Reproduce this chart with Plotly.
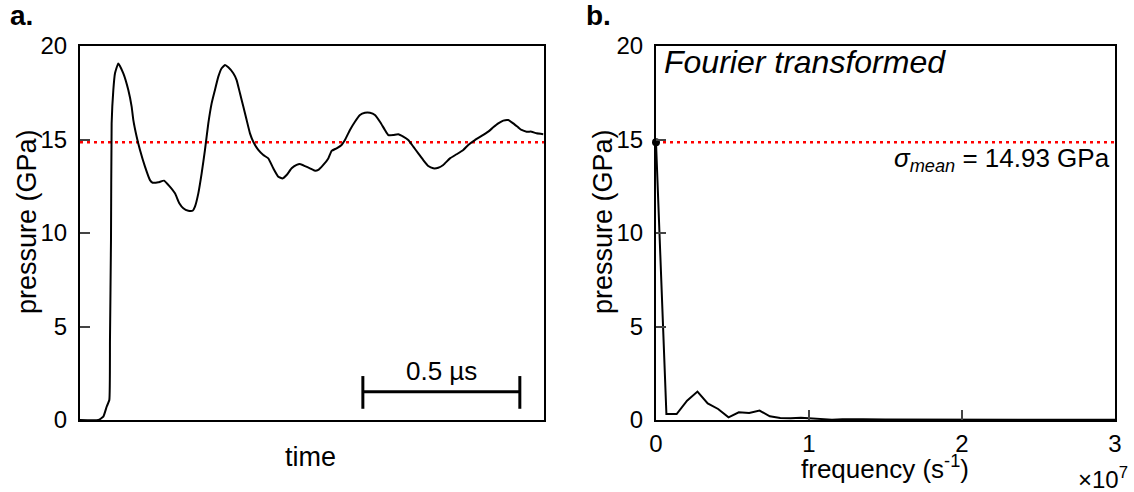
import plotly.graph_objects as go

# ---------------- data ----------------
# panel a: pressure vs time (time in microseconds)
time_us = [0.0, 0.0584, 0.0743, 0.0849, 0.0934, 0.0955, 0.0987, 0.1008, 0.1062, 0.1115,
           0.1221, 0.138, 0.1539, 0.1645, 0.1699, 0.1805, 0.1911, 0.207, 0.2229, 0.2314,
           0.2495, 0.2675, 0.2813, 0.3025, 0.3163, 0.3291, 0.345, 0.3588, 0.3662, 0.3769,
           0.3875, 0.3981, 0.4087, 0.4193, 0.4299, 0.4406, 0.4512, 0.4618, 0.4724, 0.4883,
           0.4989, 0.5096, 0.5202, 0.5308, 0.5414, 0.552, 0.5679, 0.5839, 0.5998, 0.6157,
           0.6316, 0.6454, 0.6582, 0.6741, 0.69, 0.7006, 0.7166, 0.7325, 0.7484, 0.759,
           0.7749, 0.7909, 0.8015, 0.8174, 0.8333, 0.8439, 0.8599, 0.8758, 0.8917, 0.9076,
           0.9236, 0.9395, 0.9554, 0.9713, 0.982, 0.9979, 1.0138, 1.0297, 1.0456, 1.0616,
           1.0775, 1.0934, 1.1093, 1.1253, 1.1412, 1.1571, 1.1783, 1.1996, 1.2208, 1.2367,
           1.258, 1.2792, 1.3004, 1.3163, 1.3323, 1.3482, 1.3641, 1.38, 1.3959, 1.4066,
           1.4225, 1.4384, 1.4544, 1.4756]
pressure = [0.0, 0.0, 0.18, 0.71, 1.07, 4.28, 9.63, 15.86, 17.65, 18.54,
            19.07, 18.54, 17.65, 16.76, 16.04, 15.15, 14.44, 13.55, 12.83, 12.69,
            12.71, 12.80, 12.57, 12.12, 11.59, 11.32, 11.19, 11.19, 11.41, 12.12,
            13.19, 14.44, 15.86, 16.93, 17.65, 18.36, 18.81, 18.98, 18.86, 18.54,
            18.18, 17.47, 16.76, 16.04, 15.33, 14.88, 14.44, 14.17, 13.99, 13.46,
            13.01, 12.92, 13.10, 13.46, 13.64, 13.69, 13.58, 13.46, 13.33, 13.37,
            13.64, 13.99, 14.39, 14.53, 14.71, 14.97, 15.51, 15.95, 16.31, 16.43,
            16.43, 16.31, 15.95, 15.51, 15.24, 15.24, 15.28, 15.15, 14.97, 14.62,
            14.26, 13.90, 13.58, 13.46, 13.49, 13.64, 13.99, 14.21, 14.44, 14.71,
            14.97, 15.19, 15.42, 15.65, 15.86, 16.01, 16.04, 15.86, 15.65, 15.51,
            15.42, 15.42, 15.33, 15.28]

# panel b: Fourier transformed amplitude (frequency in units of 1e7 s^-1)
freq_e7 = [0.0, 0.068, 0.135, 0.203, 0.271, 0.338, 0.406, 0.474, 0.541, 0.609,
           0.677, 0.744, 0.812, 0.880, 0.947, 1.015, 1.083, 1.150, 1.218, 1.286,
           1.353, 1.50, 1.75, 2.00, 2.25, 2.50, 2.75, 3.00]
amplitude = [14.85, 0.32, 0.32, 1.03, 1.52, 0.89, 0.59, 0.14, 0.41, 0.37,
             0.50, 0.20, 0.11, 0.09, 0.12, 0.08, 0.05, 0.02, 0.04, 0.05,
             0.04, 0.03, 0.02, 0.02, 0.02, 0.01, 0.01, 0.01]

mean_line = 14.85
mean_label = "14.93 GPa"
y_ticks = [0, 5, 10, 15, 20]
freq_ticks = [0, 1, 2, 3]
scale_bar_start, scale_bar_end = 0.901, 1.401   # 0.5 us
scale_bar_level = 1.51
time_max = 1.478

# ---------------- figure ----------------
FONT = "Liberation Sans, Arial, sans-serif"
fig = go.Figure()

fig.add_trace(go.Scatter(x=[0, time_max], y=[mean_line, mean_line], mode="lines",
                         line=dict(color="#ff0000", width=2.5, dash="3px,4px"),
                         xaxis="x", yaxis="y", showlegend=False, hoverinfo="skip"))
fig.add_trace(go.Scatter(x=time_us, y=pressure, mode="lines",
                         line=dict(color="black", width=2, shape="spline", smoothing=0.4),
                         xaxis="x", yaxis="y", showlegend=False))

fig.add_trace(go.Scatter(x=[0, 3], y=[mean_line, mean_line], mode="lines",
                         line=dict(color="#ff0000", width=2.5, dash="3px,4px"),
                         xaxis="x2", yaxis="y2", showlegend=False, hoverinfo="skip"))
fig.add_trace(go.Scatter(x=freq_e7, y=amplitude, mode="lines",
                         line=dict(color="black", width=2),
                         xaxis="x2", yaxis="y2", showlegend=False))
fig.add_trace(go.Scatter(x=[freq_e7[0]], y=[amplitude[0]], mode="markers",
                         marker=dict(color="black", size=8), cliponaxis=False,
                         xaxis="x2", yaxis="y2", showlegend=False))

axis_common = dict(showline=True, mirror=True, linecolor="black", linewidth=2,
                   showgrid=False, zeroline=False, automargin=False,
                   tickfont=dict(family=FONT, size=24, color="black"))

fig.update_layout(
    template="none",
    width=1134, height=492,
    margin=dict(l=0, r=0, t=0, b=0, pad=0),
    paper_bgcolor="white", plot_bgcolor="white",
    font=dict(family=FONT, color="black"),
    xaxis=dict(domain=[80/1134, 544/1134], range=[0, time_max], showticklabels=False,
               ticks="", **axis_common),
    yaxis=dict(domain=[72/492, 446/492], range=[0, 20], tickvals=y_ticks, ticks="inside",
               ticklen=10, tickwidth=2, ticklabelstandoff=6, anchor="x", **axis_common),
    xaxis2=dict(domain=[656/1134, 1115/1134], range=[0, 3], tickvals=freq_ticks,
                ticks="inside", ticklen=10, tickwidth=2, ticklabelstandoff=1, anchor="y2",
                **axis_common),
    yaxis2=dict(domain=[72/492, 446/492], range=[0, 20], tickvals=y_ticks, ticks="inside",
                ticklen=10, tickwidth=2, ticklabelstandoff=6, anchor="x2", **axis_common),
)

# scale bar
bar = dict(type="line", xref="x", yref="y", line=dict(color="black", width=3))
fig.add_shape(x0=scale_bar_start, x1=scale_bar_end, y0=scale_bar_level, y1=scale_bar_level, **bar)
fig.add_shape(x0=scale_bar_start, x1=scale_bar_start, y0=0.6, y1=2.35, **bar)
fig.add_shape(x0=scale_bar_end, x1=scale_bar_end, y0=0.6, y1=2.35, **bar)

anns = [
    dict(text="0.5 µs", x=(scale_bar_start + scale_bar_end) / 2, y=scale_bar_level,
         xref="x", yref="y", yshift=21, showarrow=False, font=dict(size=26),
         xanchor="center", yanchor="middle"),
    dict(text="time", x=310, y=457, showarrow=False, font=dict(size=27)),
    dict(text="pressure (GPa)", x=27, y=222, textangle=-90, showarrow=False, font=dict(size=27)),
    dict(text="pressure (GPa)", x=603, y=222, textangle=-90, showarrow=False, font=dict(size=27)),
    dict(text="frequency (s<sup>-1</sup>)", x=885, y=467, showarrow=False, font=dict(size=26)),
    dict(text="×10<sup>7</sup>", x=1130, y=478, xanchor="right", showarrow=False,
         font=dict(size=24)),
    dict(text="<b>a.</b>", x=8, y=16, xanchor="left", showarrow=False, font=dict(size=28)),
    dict(text="<b>b.</b>", x=584, y=16, xanchor="left", showarrow=False, font=dict(size=28)),
    dict(text="<i>Fourier transformed</i>", x=662, y=62, xanchor="left", showarrow=False,
         font=dict(size=32)),
    dict(text="<i>σ<sub>mean</sub></i> = " + mean_label, x=1112, y=159, xanchor="right",
         showarrow=False, font=dict(size=26)),
]
for a in anns:
    a.setdefault("xanchor", "center")
    a.setdefault("yanchor", "middle")
    if a.get("xref") != "x":
        a["xref"] = "paper"
        a["yref"] = "paper"
        a["x"] = a["x"] / 1134
        a["y"] = 1 - a["y"] / 492
    fig.add_annotation(**a)

fig.write_html("out.html")
